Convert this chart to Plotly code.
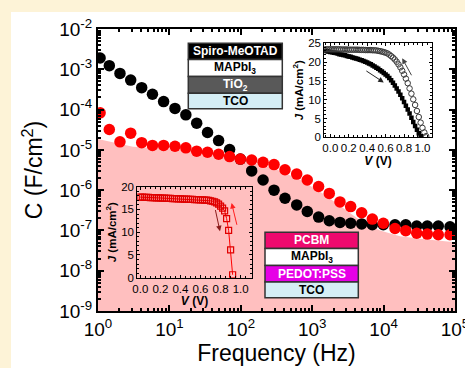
import plotly.graph_objects as go

# ---------------- data ----------------
freq_hz = [1.07, 1.44, 2.03, 2.87, 4.09, 5.79, 8.30, 11.97, 17.0, 24.1, 34.2, 48.9,
           69.7, 98.6, 142, 205, 292, 416, 607, 853, 1230, 1734, 2449, 3459, 4932,
           6950, 9908, 14450, 20420, 29110, 40930, 58340, 85110]
c_spiro = [1.91e-3, 1.23e-3, 7.9e-4, 5.4e-4, 3.5e-4, 2.4e-4, 1.58e-4, 1.07e-4, 7.4e-5,
           4.6e-5, 2.7e-5, 1.7e-5, 1.02e-5, 5.9e-6, 3.0e-6, 1.78e-6, 1.0e-6, 6.3e-7,
           4.3e-7, 2.95e-7, 2.14e-7, 1.74e-7, 1.58e-7, 1.51e-7, 1.45e-7, 1.38e-7,
           1.38e-7, 1.38e-7, 1.38e-7, 1.29e-7, 1.29e-7, 1.29e-7, 1.23e-7]
c_pcbm = [8.3e-5, 3.2e-5, 1.58e-5, 2.6e-5, 1.51e-5, 1.29e-5, 1.29e-5, 1.23e-5, 1.12e-5,
          9.3e-6, 8.7e-6, 7.8e-6, 6.8e-6, 5.9e-6, 5.6e-6, 4.9e-6, 4.3e-6, 3.2e-6,
          2.5e-6, 1.78e-6, 1.23e-6, 8.3e-7, 5.1e-7, 3.9e-7, 2.75e-7, 1.91e-7, 1.51e-7,
          1.12e-7, 9.8e-8, 8.5e-8, 8.1e-8, 7.8e-8, 7.8e-8]
fill_freq = [1, 1.47, 3.09, 11.2, 26.9, 51.3, 135, 302, 676, 1290, 2450, 4680, 8910,
             17000, 32400, 100000]
fill_c = [1.86e-5, 1.58e-5, 1.2e-5, 1.05e-5, 8.9e-6, 7.9e-6, 5.0e-6, 3.4e-6, 1.8e-6,
          9.1e-7, 4.1e-7, 1.8e-7, 1.0e-7, 7.2e-8, 6.2e-8, 5.1e-8]

x_ticks = [1, 10, 100, 1000, 10000, 100000]
x_ticktext = ["10<sup>0</sup>", "10<sup>1</sup>", "10<sup>2</sup>", "10<sup>3</sup>",
              "10<sup>4</sup>", "10<sup>5</sup>"]
y_ticks = [1e-9, 1e-8, 1e-7, 1e-6, 1e-5, 1e-4, 1e-3, 1e-2]
y_ticktext = ["10<sup>-9</sup>", "10<sup>-8</sup>", "10<sup>-7</sup>", "10<sup>-6</sup>",
              "10<sup>-5</sup>", "10<sup>-4</sup>", "10<sup>-3</sup>", "10<sup>-2</sup>"]

# inset 1 (n-i-p) J-V
v_fwd = [-0.06, -0.04, -0.02, 0.00, 0.02, 0.04, 0.06, 0.08, 0.10, 0.12, 0.14, 0.16, 0.18,
         0.20, 0.22, 0.24, 0.26, 0.28, 0.30, 0.32, 0.34, 0.36, 0.38, 0.40, 0.42, 0.44,
         0.46, 0.48, 0.50, 0.52, 0.54, 0.56, 0.58, 0.60, 0.62, 0.64, 0.66, 0.68, 0.70,
         0.72, 0.74, 0.76, 0.78, 0.80, 0.82, 0.84, 0.86, 0.88, 0.90, 0.92, 0.94, 0.96, 0.98]
j_fwd = [23.0, 22.9, 22.8, 22.7, 22.6, 22.5, 22.4, 22.3, 22.1, 22.0, 21.9, 21.8, 21.6,
         21.5, 21.4, 21.25, 21.1, 20.95, 20.8, 20.65, 20.5, 20.3, 20.1, 19.9, 19.65, 19.4,
         19.1, 18.8, 18.5, 18.2, 17.85, 17.5, 17.1, 16.7, 16.3, 15.8, 15.2, 14.5, 13.8,
         13.0, 12.2, 11.3, 10.4, 9.4, 8.4, 7.4, 6.3, 5.2, 4.1, 3.0, 2.0, 1.1, 0.3]
v_rev = [-0.06, -0.04, -0.02, 0.00, 0.02, 0.04, 0.06, 0.08, 0.10, 0.12, 0.14, 0.16, 0.18,
         0.20, 0.22, 0.24, 0.26, 0.28, 0.30, 0.32, 0.34, 0.36, 0.38, 0.40, 0.42, 0.44,
         0.46, 0.48, 0.50, 0.52, 0.54, 0.56, 0.58, 0.60, 0.62, 0.64, 0.66, 0.68, 0.70,
         0.72, 0.74, 0.76, 0.78, 0.80, 0.82, 0.84, 0.86, 0.88, 0.90, 0.92, 0.94, 0.96,
         0.98, 1.00, 1.02, 1.04]
j_rev = [23.4, 23.4, 23.4, 23.4, 23.4, 23.4, 23.4, 23.4, 23.4, 23.35, 23.35, 23.35, 23.35,
         23.3, 23.3, 23.3, 23.3, 23.3, 23.3, 23.25, 23.25, 23.25, 23.2, 23.2, 23.2, 23.2,
         23.15, 23.15, 23.1, 23.0, 22.9, 22.8, 22.65, 22.5, 22.3, 22.0, 21.6, 21.2, 20.7,
         20.1, 19.4, 18.6, 17.7, 16.7, 15.6, 14.4, 13.0, 11.6, 10.1, 8.6, 7.0, 5.4,
         3.9, 2.5, 1.3, 0.3]

# inset 2 (p-i-n) J-V
v_pin = [0.00, 0.02, 0.04, 0.06, 0.08, 0.10, 0.12, 0.14, 0.16, 0.18, 0.20, 0.22, 0.24,
         0.26, 0.28, 0.30, 0.32, 0.34, 0.36, 0.38, 0.40, 0.42, 0.44, 0.46, 0.48, 0.50,
         0.52, 0.54, 0.56, 0.58, 0.60, 0.62, 0.64, 0.66, 0.68, 0.70, 0.72, 0.74, 0.76,
         0.78, 0.80, 0.82, 0.84, 0.86, 0.88, 0.90, 0.92]
j_pin = [17.7, 17.7, 17.68, 17.66, 17.64, 17.62, 17.6, 17.58, 17.56, 17.54, 17.52, 17.5,
         17.48, 17.46, 17.44, 17.42, 17.4, 17.38, 17.36, 17.34, 17.32, 17.3, 17.28, 17.26,
         17.24, 17.22, 17.2, 17.18, 17.16, 17.14, 17.12, 17.1, 17.07, 17.03, 16.98, 16.9,
         16.8, 16.65, 16.45, 16.15, 15.75, 15.3, 14.7, 13.0, 10.4, 6.1, 0.65]

stack_nip = ["Spiro-MeOTAD", "MAPbI<sub>3</sub>", "TiO<sub>2</sub>", "TCO"]
stack_pin = ["PCBM", "MAPbI<sub>3</sub>", "PEDOT:PSS", "TCO"]

# ---------------- layout helpers ----------------
FW, FH = 465, 368
L, R, T, B = 98, 455, 29, 311
W, H = R - L, B - T


def px(x):
    return (x - L) / W


def py(y):
    return (B - y) / H


FONT = "Liberation Sans, Arial, sans-serif"
CREAM = "#FDF3D7"
PINK = "#FFBFBF"

fig = go.Figure()

# pink band under the p-i-n curve
fig.add_trace(go.Scatter(
    x=fill_freq + [fill_freq[-1], fill_freq[0]],
    y=fill_c + [1e-10, 1e-10],
    fill="toself", fillcolor=PINK, mode="lines", line=dict(width=0),
    hoverinfo="skip", showlegend=False))

fig.add_trace(go.Scatter(
    x=freq_hz, y=c_spiro, mode="markers", name="n-i-p",
    marker=dict(size=11.5, color="black"), showlegend=False))
fig.add_trace(go.Scatter(
    x=freq_hz, y=c_pcbm, mode="markers", name="p-i-n",
    marker=dict(size=11.5, color="#FF0000"), showlegend=False))

# inset 1
fig.add_trace(go.Scatter(
    x=v_fwd, y=j_fwd, mode="markers", xaxis="x2", yaxis="y2",
    marker=dict(symbol="square", size=4.5, color="black"), showlegend=False))
fig.add_trace(go.Scatter(
    x=v_rev, y=j_rev, mode="markers", xaxis="x2", yaxis="y2",
    marker=dict(symbol="circle-open", size=5.5, color="#3a3a3a", line=dict(width=1)),
    showlegend=False))

# inset 2
fig.add_trace(go.Scatter(
    x=v_pin, y=j_pin, mode="lines+markers", xaxis="x3", yaxis="y3",
    line=dict(color="#FF0000", width=1),
    marker=dict(symbol="square-open", size=6, color="#E00000", line=dict(width=1.2)),
    showlegend=False))

minor_x = [k * 10 ** n for n in range(0, 5) for k in range(2, 10)]
minor_y = [k * 10.0 ** n for n in range(-9, -2) for k in range(2, 10)]

main_axis = dict(showline=True, linecolor="black", linewidth=2, mirror="allticks",
                 ticks="inside", ticklen=6, tickwidth=1.5, tickcolor="black",
                 showgrid=False, zeroline=False, ticklabeloverflow="allow",
                 automargin=False, tickangle=0,
                 tickfont=dict(family=FONT, size=19, color="black"))

inset_axis = dict(showline=True, linecolor="black", linewidth=1, mirror="allticks",
                  ticks="inside", ticklen=3, tickwidth=1, tickcolor="black",
                  showgrid=False, zeroline=False, automargin=False, tickangle=0,
                  tickfont=dict(family=FONT, size=11.5, color="black"),
                  minor=dict(ticks="inside", ticklen=2, tickcolor="black", showgrid=False))

shapes = [dict(type="rect", xref="paper", yref="paper", layer="below",
               x0=px(11), x1=px(FW + 5), y0=py(FH + 5), y1=py(12),
               fillcolor="white", line=dict(width=0))]
annotations = []


def add_stack(labels, x0, x1, rows, fills, txtcolors):
    for lab, (y0, y1), fc, tc in zip(labels, rows, fills, txtcolors):
        shapes.append(dict(type="rect", xref="paper", yref="paper", layer="above",
                           x0=px(x0), x1=px(x1), y0=py(y1), y1=py(y0),
                           fillcolor=fc, line=dict(color="#333333", width=1.5)))
        annotations.append(dict(xref="paper", yref="paper", x=px((x0 + x1) / 2),
                                y=py((y0 + y1) / 2), text="<b>" + lab + "</b>",
                                showarrow=False, xanchor="center", yanchor="middle",
                                font=dict(family=FONT, size=12, color=tc)))


add_stack(stack_nip, 188.3, 282.3,
          [(43.3, 59.5), (59.5, 76.5), (76.5, 93.3), (93.3, 108.7)],
          ["#000000", "#FFFFFF", "#595959", "#D5EEF5"],
          ["white", "black", "white", "black"])
add_stack(stack_pin, 265, 358.3,
          [(232.3, 248.5), (248.5, 265.5), (265.5, 282), (282, 297.7)],
          ["#EE0A6E", "#FFFFFF", "#E600E6", "#D5EEF5"],
          ["white", "black", "white", "black"])


def arrow(xr, yr, tail, head, color):
    annotations.append(dict(xref=xr, yref=yr, axref=xr, ayref=yr,
                            x=head[0], y=head[1], ax=tail[0], ay=tail[1], text="",
                            showarrow=True, arrowhead=2, arrowsize=1.1, arrowwidth=1,
                            arrowcolor=color))


arrow("x2", "y2", (0.375, 17.9), (0.58, 14.6), "#222222")
arrow("x2", "y2", (0.89, 16.1), (0.78, 21.0), "#444444")
arrow("x3", "y3", (0.745, 15.2), (0.794, 10.2), "#8B1A1A")
arrow("x3", "y3", (0.966, 11.3), (0.91, 16.4), "#FF2020")

fig.update_layout(
    width=FW, height=FH, autosize=False,
    margin=dict(l=L, r=FW - R, t=T, b=FH - B, pad=0, autoexpand=False),
    paper_bgcolor=CREAM, plot_bgcolor="rgba(0,0,0,0)",
    font=dict(family=FONT, color="black"),
    xaxis=dict(main_axis, type="log", range=[0, 5], tickmode="array",
               tickvals=x_ticks, ticktext=x_ticktext,
               minor=dict(ticks="inside", ticklen=3, tickcolor="black",
                          tickmode="array", tickvals=minor_x, showgrid=False),
               title=dict(text="Frequency (Hz)", font=dict(family=FONT, size=23),
                          standoff=6)),
    yaxis=dict(main_axis, type="log", range=[-9, -2], tickmode="array",
               tickvals=y_ticks, ticktext=y_ticktext,
               minor=dict(ticks="inside", ticklen=3, tickcolor="black",
                          tickmode="array", tickvals=minor_y, showgrid=False),
               title=dict(text="C (F/cm<sup>2</sup>)", font=dict(family=FONT, size=23),
                          standoff=10)),
    xaxis2=dict(inset_axis, domain=[px(324.3), px(431.7)], anchor="y2",
                range=[-0.065, 1.1], tick0=0, dtick=0.2, tickformat=".1f",
                title=dict(text="<b><i>V</i> (V)</b>", font=dict(family=FONT, size=12),
                           standoff=2)),
    yaxis2=dict(inset_axis, domain=[py(137.3), py(43.3)], anchor="x2",
                range=[0, 25], tick0=0, dtick=5,
                title=dict(text="<b><i>J</i> (mA/cm<sup>2</sup>)</b>",
                           font=dict(family=FONT, size=11.5), standoff=2)),
    xaxis3=dict(inset_axis, domain=[px(137.3), px(251.7)], anchor="y3",
                range=[-0.03, 1.11], tick0=0, dtick=0.2, tickformat=".1f",
                title=dict(text="<b><i>V</i> (V)</b>", font=dict(family=FONT, size=12),
                           standoff=2)),
    yaxis3=dict(inset_axis, domain=[py(277.7), py(186.7)], anchor="x3",
                range=[0, 20], tick0=0, dtick=5,
                title=dict(text="<b><i>J</i> (mA/cm<sup>2</sup>)</b>",
                           font=dict(family=FONT, size=11.5), standoff=2)),
    shapes=shapes,
    annotations=annotations,
    showlegend=False,
)

fig.write_html("out.html")
